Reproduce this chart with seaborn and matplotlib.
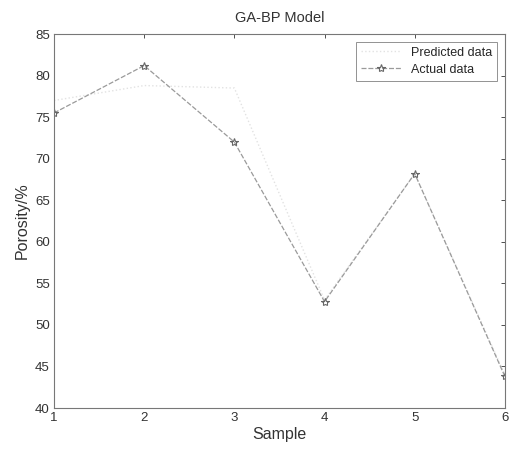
import numpy as np
import pandas as pd
import seaborn as sns
import matplotlib.pyplot as plt

# Data
samples = [1, 2, 3, 4, 5, 6]
predicted = [77.0, 78.8, 78.5, 53.0, 68.2, 44.0]
actual = [75.5, 81.2, 72.0, 52.8, 68.2, 43.8]

df = pd.DataFrame({"Sample": samples, "Predicted": predicted, "Actual": actual})

sns.set_style("white")
plt.rcParams['font.family'] = ['Liberation Sans', 'DejaVu Sans']

fig = plt.figure(figsize=(5.11, 4.51), dpi=100)
ax = fig.add_axes([0.1057, 0.0953, 0.8823, 0.8293])

sns.lineplot(data=df, x="Sample", y="Predicted", ax=ax, color="#e2e2e2",
             linestyle=":", linewidth=1.0, label="Predicted data")
sns.lineplot(data=df, x="Sample", y="Actual", ax=ax, color="#9a9a9a",
             linestyle=(0, (4, 1.5)), linewidth=0.9, marker="*", markersize=6,
             markerfacecolor="none", markeredgecolor="#666666",
             markeredgewidth=0.8, label="Actual data")

ax.set_xlim(1, 6)
ax.set_ylim(40, 85)
ax.set_xticks(samples)
ax.set_yticks(np.arange(40, 86, 5))
ax.tick_params(direction="in", length=3, width=0.6, colors="#333333",
               labelsize=9.5, top=True, right=True, pad=3)
for s in ax.spines.values():
    s.set_color("#777777")
    s.set_linewidth(0.8)

ax.set_title("GA-BP Model", fontsize=10.5, color="#333333", pad=9)
ax.set_xlabel("Sample", fontsize=11.5, color="#333333", labelpad=2)
ax.set_ylabel("Porosity/%", fontsize=11.5, color="#333333", labelpad=4)

leg = ax.legend(loc="upper right", fontsize=9, frameon=True, fancybox=False,
                borderaxespad=0.6, handlelength=3.2, labelspacing=0.4)
leg.get_frame().set_edgecolor("#777777")
leg.get_frame().set_linewidth(0.7)

fig.savefig("out.png", dpi=100)
